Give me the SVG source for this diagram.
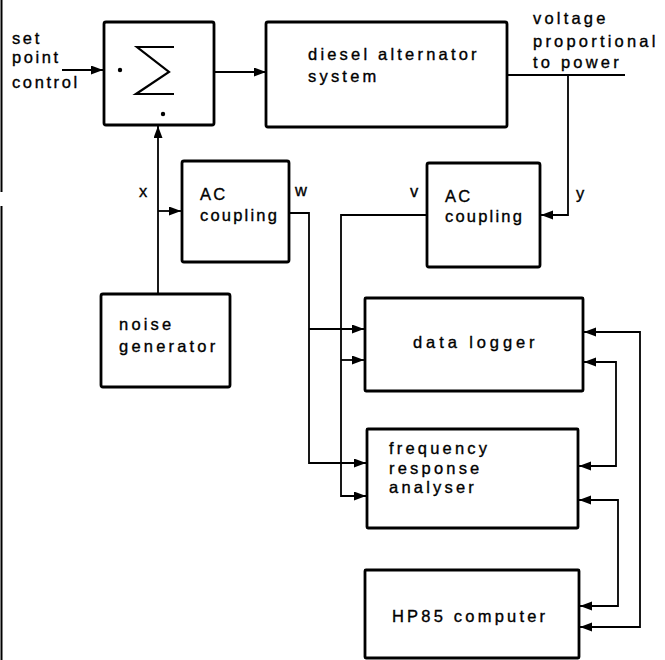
<svg xmlns="http://www.w3.org/2000/svg" width="665" height="660" viewBox="0 0 665 660">
<defs>
<marker id="ah" markerUnits="userSpaceOnUse" markerWidth="13" markerHeight="10" refX="12" refY="4.5" orient="auto-start-reverse">
<path d="M0,0 L12,4.5 L0,9 z" fill="#000"/>
</marker>
</defs>
<style>
.box{fill:#fff;stroke:#000;stroke-width:2.8}
.ln{fill:none;stroke:#000;stroke-width:1.8}
.arr{marker-end:url(#ah)}
.both{marker-start:url(#ah);marker-end:url(#ah)}
text{font-family:"Liberation Sans",Arial,sans-serif;font-size:16.5px;fill:#000;stroke:#000;stroke-width:0.35;letter-spacing:3.2px}
</style>
<rect width="665" height="660" fill="#fff"/>
<g id="scan-edge">
<line x1="1.5" y1="0" x2="1.5" y2="192" stroke="#000" stroke-width="2"/>
<line x1="1.5" y1="206" x2="1.5" y2="660" stroke="#000" stroke-width="2"/>
</g>
<g id="connectors">
<path class="ln arr" d="M62,70 H103"/>
<path class="ln arr" d="M214,72 H266"/>
<path class="ln" d="M507,75 H625"/>
<path class="ln arr" d="M568,75 V215 H541"/>
<path class="ln" d="M427,215 H341 V360"/>
<path class="ln arr" d="M341,360 H364"/>
<path class="ln arr" d="M341,360 V496 H366"/>
<path class="ln" d="M289,213 H309 V329"/>
<path class="ln arr" d="M309,329 H364"/>
<path class="ln arr" d="M309,329 V463 H366"/>
<path class="ln arr" d="M158,294 V126"/>
<path class="ln arr" d="M158,211 H181"/>
<path class="ln both" d="M584,332 H640 V627 H580"/>
<path class="ln both" d="M584,362 H616 V466 H579"/>
<path class="ln both" d="M579,500 H618 V606 H580"/>
</g>
<g id="setpoint-label">
<text x="12" y="44" style="letter-spacing:2.6px">set</text>
<text x="12" y="63" style="letter-spacing:2.6px">point</text>
<text x="12" y="88" style="letter-spacing:2.6px">control</text>
</g>
<g id="summer">
<rect class="box" x="104" y="22" width="110" height="103" rx="2"/>
<path d="M174,47 H137 L169,72 L136,94 H174" fill="none" stroke="#000" stroke-width="2.2"/>
<circle cx="120" cy="70" r="2.2" fill="#000"/>
<circle cx="163" cy="114" r="2.2" fill="#000"/>
</g>
<g id="diesel">
<rect class="box" x="266" y="22" width="241" height="105" rx="2"/>
<text x="308" y="60">diesel alternator</text>
<text x="308" y="82">system</text>
</g>
<g id="output-label">
<text x="533" y="24">voltage</text>
<text x="533" y="47">proportional</text>
<text x="533" y="68">to power</text>
</g>
<g id="ac1">
<rect class="box" x="182" y="161" width="107" height="101" rx="2"/>
<text x="200" y="200" style="letter-spacing:2.2px">AC</text>
<text x="200" y="221" style="letter-spacing:2.2px">coupling</text>
</g>
<g id="ac2">
<rect class="box" x="427" y="163" width="113" height="104" rx="2"/>
<text x="445" y="202" style="letter-spacing:2.2px">AC</text>
<text x="445" y="222" style="letter-spacing:2.2px">coupling</text>
</g>
<g id="signal-labels">
<text x="139" y="197">x</text>
<text x="295" y="196">w</text>
<text x="410" y="197">v</text>
<text x="576" y="199">y</text>
</g>
<g id="noise">
<rect class="box" x="101" y="294" width="129" height="93" rx="2"/>
<text x="119" y="330">noise</text>
<text x="119" y="352">generator</text>
</g>
<g id="datalogger">
<rect class="box" x="365" y="298" width="218" height="93" rx="1"/>
<text x="413" y="348" style="letter-spacing:3.9px">data logger</text>
</g>
<g id="fra">
<rect class="box" x="367" y="429" width="211" height="99" rx="1"/>
<text x="389" y="454">frequency</text>
<text x="389" y="474">response</text>
<text x="389" y="493">analyser</text>
</g>
<g id="hp85">
<rect class="box" x="365" y="570" width="214" height="88" rx="1"/>
<text x="392" y="622">HP85 computer</text>
</g>
</svg>
